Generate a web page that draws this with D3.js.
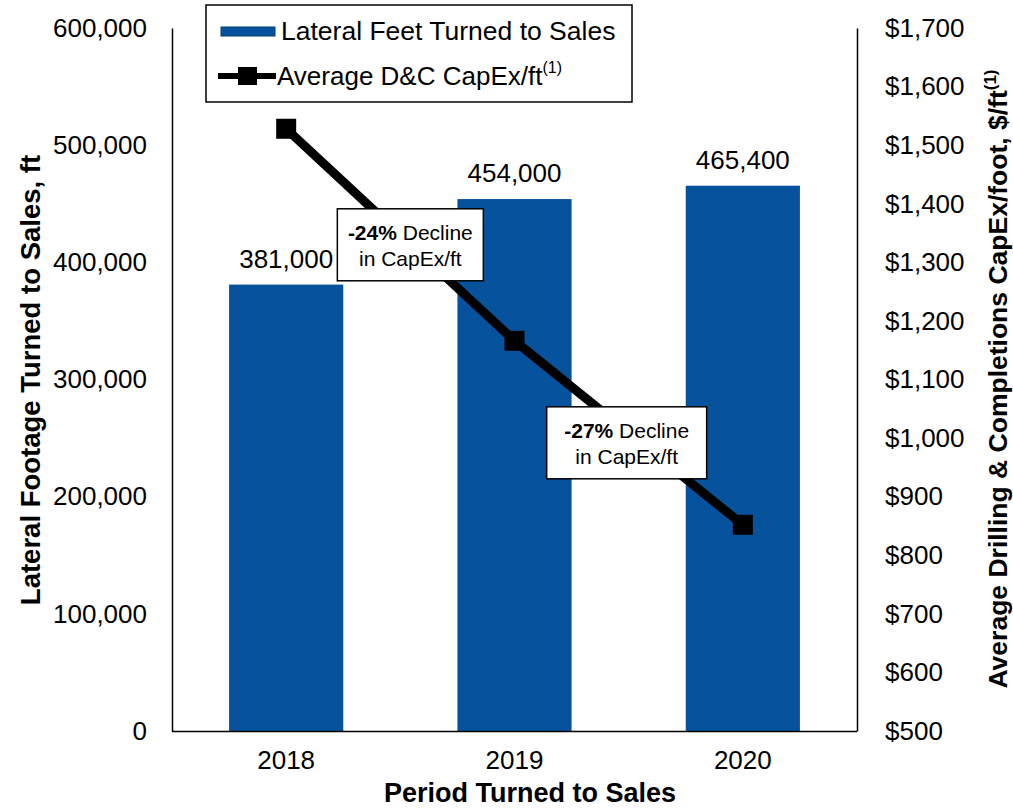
<!DOCTYPE html>
<html>
<head>
<meta charset="utf-8">
<script src="https://cdn.jsdelivr.net/npm/d3@7"></script>
<style>
  body { margin: 0; background: #fff; }
  text { font-family: "Liberation Sans", Arial, sans-serif; fill: #000; }
</style>
</head>
<body>
<svg id="chart"></svg>
<script>
'use strict'

const years = ["2018", "2019", "2020"]
const lateralFeet = [381000, 454000, 465400]
const capexPerFt = [1528, 1166, 852]
const leftTicks = [0, 100000, 200000, 300000, 400000, 500000, 600000]
const rightTicks = [500, 600, 700, 800, 900, 1000, 1100, 1200, 1300, 1400, 1500, 1600, 1700]
const declinePct = ["-24%", "-27%"]

const width = 1013, height = 809
const plotLeft = 172, plotRight = 857, plotTop = 28, plotBottom = 731
const barColor = "#07529c"
const font = "Liberation Sans, Arial, sans-serif"

const svg = d3.select("#chart").attr("width", width).attr("height", height)

const x = d3.scaleBand().domain(years).range([plotLeft, plotRight])
  .paddingInner(0.5).paddingOuter(0.25)
const yL = d3.scaleLinear().domain([0, 600000]).range([plotBottom, plotTop])
const yR = d3.scaleLinear().domain([500, 1700]).range([plotBottom, plotTop])

// bars
svg.append("g").selectAll("rect")
  .data(years)
  .enter().append("rect")
    .attr("x", d => x(d))
    .attr("width", x.bandwidth())
    .attr("y", (d, i) => yL(lateralFeet[i]))
    .attr("height", (d, i) => plotBottom - yL(lateralFeet[i]))
    .attr("fill", barColor)

// bar labels
svg.append("g").selectAll("text")
  .data(years)
  .enter().append("text")
    .attr("x", d => x(d) + x.bandwidth() / 2)
    .attr("y", (d, i) => yL(lateralFeet[i]) - 17)
    .attr("text-anchor", "middle")
    .attr("font-size", 26)
    .text((d, i) => d3.format(",")(lateralFeet[i]))

// axes (no tick marks)
const axisL = svg.append("g").attr("transform", `translate(${plotLeft},0)`)
  .call(d3.axisLeft(yL).tickValues(leftTicks).tickSize(0).tickPadding(25).tickFormat(d3.format(",")))
const axisR = svg.append("g").attr("transform", `translate(${plotRight},0)`)
  .call(d3.axisRight(yR).tickValues(rightTicks).tickSize(0).tickPadding(28).tickFormat(d => "$" + d3.format(",")(d)))
const axisB = svg.append("g").attr("transform", `translate(0,${plotBottom})`)
  .call(d3.axisBottom(x).tickSize(0).tickPadding(20))

for (const a of [axisL, axisR, axisB]) {
  a.attr("font-size", 26).attr("font-family", font)
  a.select(".domain").attr("stroke", "#000").attr("stroke-width", 1.5)
  a.selectAll("text").attr("fill", "#000")
}
axisB.select(".domain").attr("d", `M${plotLeft},0.5H${plotRight}`)

// line series
const pts = years.map((d, i) => [x(d) + x.bandwidth() / 2, yR(capexPerFt[i])])
svg.append("path")
  .attr("d", d3.line()(pts))
  .attr("fill", "none")
  .attr("stroke", "#000")
  .attr("stroke-width", 9)
svg.append("g").selectAll("rect")
  .data(pts)
  .enter().append("rect")
    .attr("x", d => d[0] - 10)
    .attr("y", d => d[1] - 10)
    .attr("width", 20)
    .attr("height", 20)
    .attr("fill", "#000")

// decline callouts, placed near the middle of each line segment
const callout = svg.append("g").selectAll("g")
  .data(declinePct)
  .enter().append("g")
    .attr("transform", (d, i) => {
      const cx = (pts[i][0] + pts[i + 1][0]) / 2 + (i === 0 ? 10 : -2)
      const cy = (pts[i][1] + pts[i + 1][1]) / 2 + 10
      return `translate(${cx},${cy})`
    })
callout.append("rect")
  .attr("x", (d, i) => i === 0 ? -73 : -80).attr("y", -36)
  .attr("width", (d, i) => i === 0 ? 146 : 160).attr("height", 72)
  .attr("fill", "#fff").attr("stroke", "#000").attr("stroke-width", 1.5)
const t1 = callout.append("text")
  .attr("text-anchor", "middle").attr("y", -5).attr("font-size", 21)
t1.append("tspan").attr("font-weight", "bold").text(d => d)
t1.append("tspan").text(" Decline")
callout.append("text")
  .attr("text-anchor", "middle").attr("y", 21).attr("font-size", 21)
  .text("in CapEx/ft")

// legend
const lg = svg.append("g")
lg.append("rect")
  .attr("x", 206).attr("y", 5).attr("width", 426).attr("height", 97)
  .attr("fill", "#fff").attr("stroke", "#000").attr("stroke-width", 1.5)
lg.append("rect")
  .attr("x", 221).attr("y", 27).attr("width", 54).attr("height", 9)
  .attr("fill", barColor).attr("stroke", "#0b3d70").attr("stroke-width", 1)
lg.append("text").attr("x", 281).attr("y", 40).attr("font-size", 26.5)
  .text("Lateral Feet Turned to Sales")
lg.append("line")
  .attr("x1", 218).attr("x2", 276).attr("y1", 76).attr("y2", 76)
  .attr("stroke", "#000").attr("stroke-width", 6)
lg.append("rect").attr("x", 238).attr("y", 67).attr("width", 19).attr("height", 18).attr("fill", "#000")
const lt = lg.append("text").attr("x", 277).attr("y", 85).attr("font-size", 26)
lt.append("tspan").text("Average D&C CapEx/ft")
lt.append("tspan").attr("font-size", 16).attr("dy", -12).text("(1)")

// axis titles
svg.append("text")
  .attr("transform", "translate(40,380) rotate(-90)")
  .attr("text-anchor", "middle").attr("font-size", 27.5).attr("font-weight", "bold")
  .text("Lateral Footage Turned to Sales, ft")
const rt = svg.append("text")
  .attr("transform", "translate(1007,379) rotate(-90)")
  .attr("text-anchor", "middle").attr("font-size", 26.5).attr("font-weight", "bold")
rt.append("tspan").text("Average Drilling & Completions CapEx/foot, $/ft")
rt.append("tspan").attr("font-size", 17).attr("dy", -11).text("(1)")
svg.append("text")
  .attr("x", 530).attr("y", 802)
  .attr("text-anchor", "middle").attr("font-size", 27).attr("font-weight", "bold")
  .text("Period Turned to Sales")
</script>
</body>
</html>
